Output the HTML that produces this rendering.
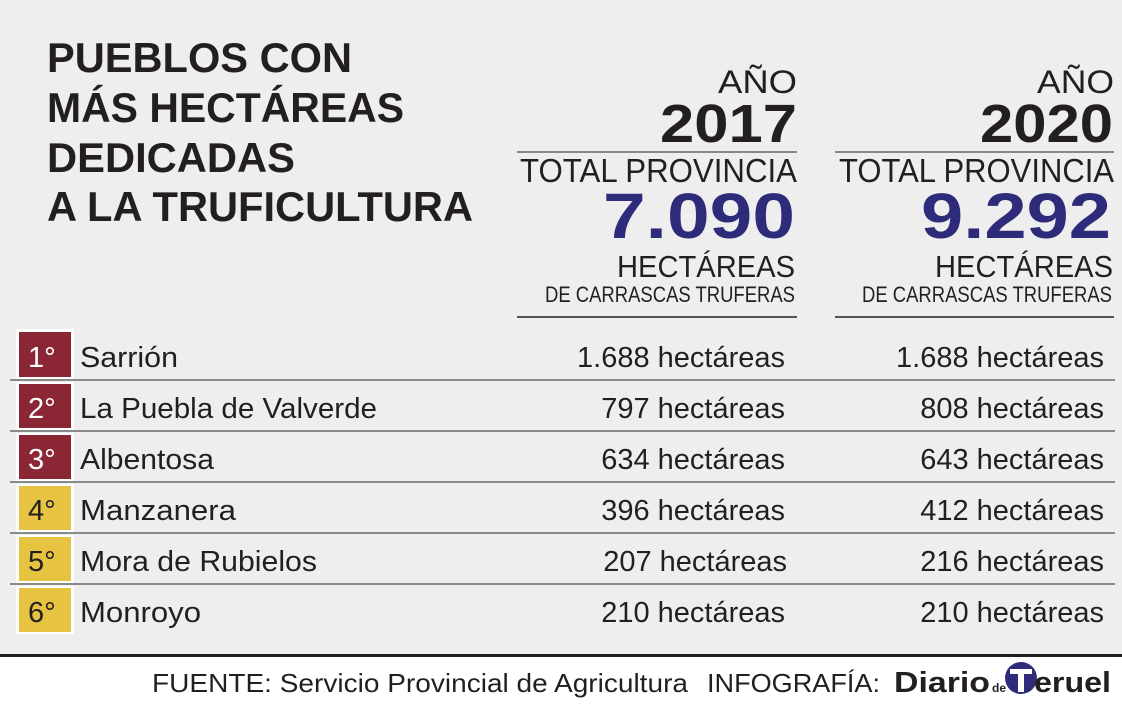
<!DOCTYPE html>
<html><head><meta charset="utf-8"><style>
html,body{margin:0;padding:0;background:#fff}
svg{display:block}
text{font-family:"Liberation Sans",sans-serif;fill:#231f20}
.b{font-weight:bold}
</style></head><body>
<svg width="1122" height="707" viewBox="0 0 1122 707" xmlns="http://www.w3.org/2000/svg">
<rect x="0" y="0" width="1122" height="656" fill="#eeeeee"/>
<rect x="0" y="654" width="1122" height="3" fill="#231f20"/>
<g class="b" font-size="42">
<text class="b" x="47" y="72" textLength="305" lengthAdjust="spacingAndGlyphs">PUEBLOS CON</text>
<text class="b" x="47" y="122" textLength="357" lengthAdjust="spacingAndGlyphs">MÁS HECTÁREAS</text>
<text class="b" x="47" y="172" textLength="248" lengthAdjust="spacingAndGlyphs">DEDICADAS</text>
<text class="b" x="47" y="221" textLength="426" lengthAdjust="spacingAndGlyphs">A LA TRUFICULTURA</text>
</g>
<!-- 2017 column -->
<text x="718" y="93" font-size="32" textLength="79" lengthAdjust="spacingAndGlyphs">AÑO</text>
<text class="b" x="660" y="142" font-size="54" textLength="137" lengthAdjust="spacingAndGlyphs">2017</text>
<rect x="517" y="151" width="280" height="2" fill="#888"/>
<text x="520" y="182" font-size="33" textLength="277" lengthAdjust="spacingAndGlyphs">TOTAL PROVINCIA</text>
<text class="b" x="603" y="238" font-size="64" fill="#2e2c7a" style="fill:#2e2c7a" textLength="192" lengthAdjust="spacingAndGlyphs">7.090</text>
<text x="617" y="277" font-size="31" textLength="178" lengthAdjust="spacingAndGlyphs">HECTÁREAS</text>
<text x="545" y="302" font-size="22" textLength="250" lengthAdjust="spacingAndGlyphs">DE CARRASCAS TRUFERAS</text>
<rect x="517" y="316" width="280" height="2" fill="#555"/>
<!-- 2020 column -->
<text x="1037" y="93" font-size="32" textLength="77" lengthAdjust="spacingAndGlyphs">AÑO</text>
<text class="b" x="980" y="142" font-size="54" textLength="133" lengthAdjust="spacingAndGlyphs">2020</text>
<rect x="835" y="151" width="279" height="2" fill="#888"/>
<text x="839" y="182" font-size="33" textLength="275" lengthAdjust="spacingAndGlyphs">TOTAL PROVINCIA</text>
<text class="b" x="921" y="238" font-size="64" style="fill:#2e2c7a" textLength="190" lengthAdjust="spacingAndGlyphs">9.292</text>
<text x="935" y="277" font-size="31" textLength="178" lengthAdjust="spacingAndGlyphs">HECTÁREAS</text>
<text x="862" y="302" font-size="22" textLength="250" lengthAdjust="spacingAndGlyphs">DE CARRASCAS TRUFERAS</text>
<rect x="835" y="316" width="279" height="2" fill="#555"/>
<!-- rows -->
<g font-size="29">
<rect x="16" y="329" width="58" height="50" fill="#fff"/><rect x="19" y="332" width="52" height="45" fill="#8b2635"/>
<text x="28" y="367" style="fill:#fff">1°</text>
<text x="80" y="367" textLength="98" lengthAdjust="spacingAndGlyphs">Sarrión</text>
<text x="785" y="367" text-anchor="end">1.688 hectáreas</text>
<text x="1104" y="367" text-anchor="end">1.688 hectáreas</text>
<rect x="10" y="379" width="1105" height="2" fill="#8a8a8a"/>

<rect x="16" y="382" width="58" height="48" fill="#fff"/><rect x="19" y="384" width="52" height="44" fill="#8b2635"/>
<text x="28" y="418" style="fill:#fff">2°</text>
<text x="80" y="418" textLength="297" lengthAdjust="spacingAndGlyphs">La Puebla de Valverde</text>
<text x="785" y="418" text-anchor="end">797 hectáreas</text>
<text x="1104" y="418" text-anchor="end">808 hectáreas</text>
<rect x="10" y="430" width="1105" height="2" fill="#8a8a8a"/>

<rect x="16" y="433" width="58" height="48" fill="#fff"/><rect x="19" y="435" width="52" height="44" fill="#8b2635"/>
<text x="28" y="469" style="fill:#fff">3°</text>
<text x="80" y="469" textLength="134" lengthAdjust="spacingAndGlyphs">Albentosa</text>
<text x="785" y="469" text-anchor="end">634 hectáreas</text>
<text x="1104" y="469" text-anchor="end">643 hectáreas</text>
<rect x="10" y="481" width="1105" height="2" fill="#8a8a8a"/>

<rect x="16" y="484" width="58" height="48" fill="#fff"/><rect x="19" y="486" width="52" height="44" fill="#e6c340"/>
<text x="28" y="520">4°</text>
<text x="80" y="520" textLength="156" lengthAdjust="spacingAndGlyphs">Manzanera</text>
<text x="785" y="520" text-anchor="end">396 hectáreas</text>
<text x="1104" y="520" text-anchor="end">412 hectáreas</text>
<rect x="10" y="532" width="1105" height="2" fill="#8a8a8a"/>

<rect x="16" y="535" width="58" height="48" fill="#fff"/><rect x="19" y="537" width="52" height="44" fill="#e6c340"/>
<text x="28" y="571">5°</text>
<text x="80" y="571" textLength="237" lengthAdjust="spacingAndGlyphs">Mora de Rubielos</text>
<text x="787" y="571" text-anchor="end">207 hectáreas</text>
<text x="1104" y="571" text-anchor="end">216 hectáreas</text>
<rect x="10" y="583" width="1105" height="2" fill="#8a8a8a"/>

<rect x="16" y="586" width="58" height="48" fill="#fff"/><rect x="19" y="588" width="52" height="44" fill="#e6c340"/>
<text x="28" y="622">6°</text>
<text x="80" y="622" textLength="121" lengthAdjust="spacingAndGlyphs">Monroyo</text>
<text x="785" y="622" text-anchor="end">210 hectáreas</text>
<text x="1104" y="622" text-anchor="end">210 hectáreas</text>
</g>
<!-- footer -->
<text x="152" y="692" font-size="26" textLength="536" lengthAdjust="spacingAndGlyphs">FUENTE: Servicio Provincial de Agricultura</text>
<text x="707" y="692" font-size="26" textLength="173" lengthAdjust="spacingAndGlyphs">INFOGRAFÍA:</text>
<text class="b" x="894" y="692" font-size="29" textLength="96" lengthAdjust="spacingAndGlyphs">Diario</text>
<text class="b" x="992" y="692" font-size="12">de</text>
<circle cx="1021" cy="678" r="16" fill="#2e2c7a"/>
<rect x="1010" y="669" width="22" height="5" fill="#fff"/><rect x="1018" y="669" width="6" height="23" fill="#fff"/>
<text class="b" x="1034" y="692" font-size="29" textLength="77" lengthAdjust="spacingAndGlyphs">eruel</text>
</svg>
</body></html>
